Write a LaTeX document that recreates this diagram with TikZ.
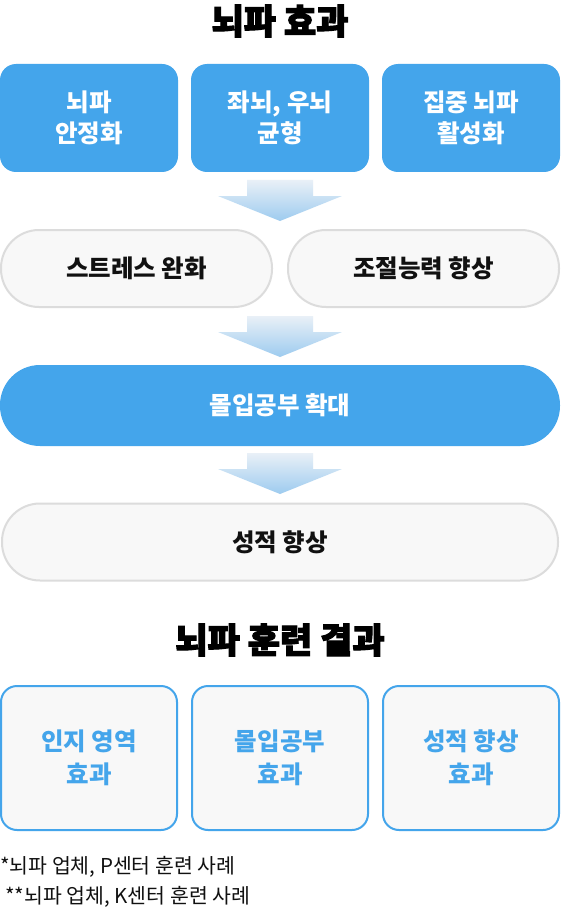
\documentclass[tikz,border=0pt]{standalone}
\usepackage{fontspec}
\setmainfont{Noto Sans CJK KR}
\newfontfamily\blackfont{Noto Sans CJK KR Black}[FakeBold=3]
\usetikzlibrary{calc}
\definecolor{mainblue}{HTML}{44A5EB}
\definecolor{pillfill}{HTML}{F8F8F8}
\definecolor{pillline}{HTML}{DCDCDC}
\definecolor{arrtop}{HTML}{E9F0F7}
\definecolor{arrbot}{HTML}{9DCBEF}
\definecolor{txtdark}{HTML}{111111}
\tikzset{
  bluebox/.style={rectangle, rounded corners=16pt, fill=mainblue, draw=none,
    minimum width=178pt, minimum height=108pt, inner sep=0pt, outer sep=0pt,
    text=white, align=center, font=\fontsize{24.5}{31}\selectfont\bfseries},
  graypill/.style={rectangle, rounded corners=38pt, fill=pillfill, draw=pillline, line width=2pt,
    minimum height=77pt, inner sep=0pt, outer sep=1pt,
    text=txtdark, font=\fontsize{24.5}{31}\selectfont\bfseries},
  bluepill/.style={rectangle, rounded corners=40pt, fill=mainblue, draw=none,
    minimum height=81pt, inner sep=0pt, outer sep=0pt,
    text=white, font=\fontsize{24.5}{31}\selectfont\bfseries},
  resbox/.style={rectangle, rounded corners=16pt, fill=pillfill, draw=mainblue, line width=2pt,
    minimum width=176pt, minimum height=144pt, inner sep=0pt, outer sep=1pt,
    text=mainblue, align=center, font=\fontsize{24.5}{33}\selectfont\bfseries},
  titletext/.style={inner sep=0pt, text=black, font=\blackfont\fontsize{35}{40}\selectfont},
  notetext/.style={inner sep=0pt, anchor=west, text=txtdark, font=\fontsize{20.5}{22}\selectfont}
}
\newcommand\flowarrow[1]{%
  \shade[top color=arrtop, bottom color=arrbot]
    ($(#1)+(-33,0)$) -- ($(#1)+(33,0)$) -- ($(#1)+(33,16)$) -- ($(#1)+(62,16)$)
    -- ($(#1)+(0,41)$) -- ($(#1)+(-62,16)$) -- ($(#1)+(-33,16)$) -- cycle;}
\begin{document}
\begin{tikzpicture}[x=1pt, y=-1pt]
\useasboundingbox (0,0) rectangle (560,920);
\fill[white] (0,0) rectangle (560,920);

\node[titletext] (t1) at (280,21) {뇌파 효과};

\node[bluebox] (b1) at (89,118) {뇌파\\안정화};
\node[bluebox] (b2) at (280,118) {좌뇌, 우뇌\\균형};
\node[bluebox] (b3) at (471,118) {집중 뇌파\\활성화};

\node[graypill, minimum width=271pt] (p1) at (136.5,268.5) {스트레스 완화};
\node[graypill, minimum width=271pt] (p2) at (423.5,268.5) {조절능력 향상};

\node[bluepill, minimum width=560pt] (m) at (280,405.5) {몰입공부 확대};

\node[graypill, minimum width=556pt] (s) at (280,542) {성적 향상};

\coordinate (a1) at ($(b2.south)+(0,8)$);
\coordinate (a2) at ($(p1.south -| m.north)+(0,8)$);
\coordinate (a3) at ($(m.south)+(0,7)$);
\flowarrow{a1}
\flowarrow{a2}
\flowarrow{a3}

\node[titletext] (t2) at (280,640) {뇌파 훈련 결과};

\node[resbox] (r1) at (89,758) {인지 영역\\효과};
\node[resbox] (r2) at (280,758) {몰입공부\\효과};
\node[resbox] (r3) at (471,758) {성적 향상\\효과};

\node[notetext] (n1) at (0,867) {*뇌파 업체, P센터 훈련 사례};
\node[notetext] (n2) at (5,897) {**뇌파 업체, K센터 훈련 사례};
\end{tikzpicture}
\end{document}
